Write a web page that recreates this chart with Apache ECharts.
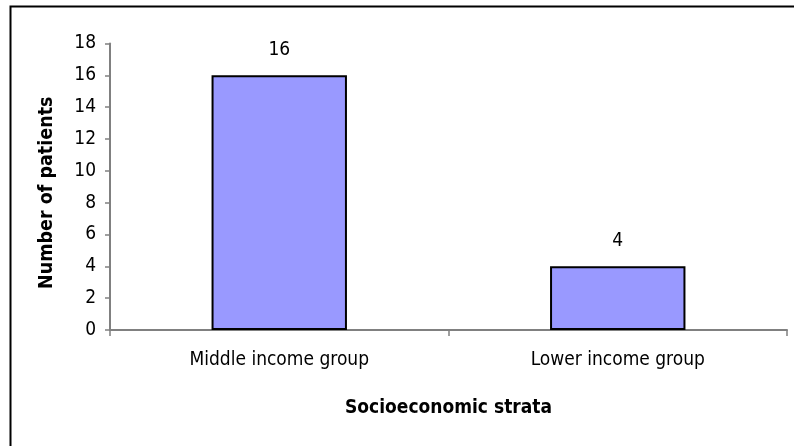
<!DOCTYPE html>
<html>
<head>
<meta charset="utf-8">
<script src="https://cdn.jsdelivr.net/npm/echarts@6/dist/echarts.min.js"></script>
<style>
  html, body { margin: 0; padding: 0; background: #fff; }
  #chart { width: 794px; height: 446px; }
</style>
</head>
<body>
<div id="chart"></div>
<script>
// Patients grouped by socioeconomic stratum
const categories = ['Middle income group', 'Lower income group'];
const patients = [16, 4];
const yTicks = { min: 0, max: 18, interval: 2 };

const FONT = '"DejaVu Sans Condensed", "Liberation Sans", sans-serif';

const chart = echarts.init(document.getElementById('chart'), null, { renderer: 'canvas' });

chart.setOption({
  animation: false,
  backgroundColor: '#ffffff',
  textStyle: { fontFamily: FONT },
  graphic: [{
    type: 'rect',
    left: 8, top: 4,
    shape: { width: 900, height: 600 },
    style: { fill: 'none', stroke: '#000', lineWidth: 2 },
    silent: true
  }],
  grid: { left: 110, right: 7, top: 43.5, bottom: 116, containLabel: false },
  xAxis: {
    type: 'category',
    data: categories,
    name: 'Socioeconomic strata',
    nameLocation: 'middle',
    nameGap: 69,
    nameTextStyle: { fontFamily: FONT, fontWeight: 'bold', fontSize: 19, color: '#000' },
    axisLine: { lineStyle: { color: '#808080', width: 2 } },
    axisTick: { show: true, alignWithLabel: false, length: 6, lineStyle: { color: '#808080', width: 1.5 } },
    axisLabel: { fontFamily: FONT, fontSize: 19, color: '#000', margin: 21 }
  },
  yAxis: {
    type: 'value',
    min: yTicks.min, max: yTicks.max, interval: yTicks.interval,
    name: 'Number of patients',
    nameLocation: 'middle',
    nameGap: 53,
    nameTextStyle: {
      fontFamily: FONT, fontWeight: 'bold', fontSize: 19.5, color: '#000',
      padding: [0, 12, 0, 0]
    },
    axisLine: { show: true, lineStyle: { color: '#808080', width: 2 } },
    axisTick: { show: true, inside: false, length: 5, lineStyle: { color: '#808080', width: 1.5 } },
    axisLabel: { fontFamily: FONT, fontSize: 19, color: '#000', margin: 14 },
    splitLine: { show: false }
  },
  series: [{
    type: 'bar',
    data: patients,
    barCategoryGap: '60%',
    itemStyle: { color: '#9999FF', borderColor: '#000', borderWidth: 2 },
    label: {
      show: true, position: 'top', distance: 16,
      fontFamily: FONT, fontSize: 19, color: '#000'
    }
  }]
});
</script>
</body>
</html>
